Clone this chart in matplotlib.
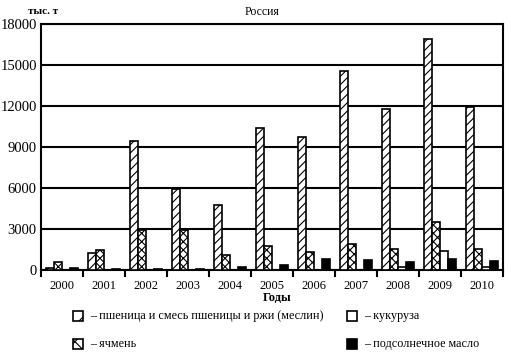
import numpy as np
import matplotlib.pyplot as plt
from matplotlib.patches import Rectangle

plt.rcParams['font.family'] = ['Liberation Serif', 'DejaVu Serif']
plt.rcParams['hatch.linewidth'] = 0.8

# данные (тыс. т)
years = ['2000', '2001', '2002', '2003', '2004', '2005', '2006', '2007', '2008', '2009', '2010']
wheat = [150, 1270, 9450, 5930, 4780, 10420, 9760, 14590, 11810, 16930, 11960]
barley = [560, 1460, 2900, 2900, 1080, 1760, 1320, 1930, 1560, 3540, 1560]
corn = [0, 0, 0, 0, 0, 0, 0, 0, 200, 1390, 240]
sunoil = [150, 60, 50, 50, 240, 390, 780, 730, 560, 800, 660]
yticks = [0, 3000, 6000, 9000, 12000, 15000, 18000]

series = [
    (wheat, 'white', '////', '– пшеница и смесь пшеницы и ржи (меслин)'),
    (barley, 'white', 'xxxx', '– ячмень'),
    (corn, 'white', '', '– кукуруза'),
    (sunoil, 'black', '', '– подсолнечное масло'),
]

fig = plt.figure(figsize=(5.11, 3.56), dpi=100)
ax = fig.add_axes([41/511, 1-270/356, 462/511, 246/356])

x = np.arange(len(years))
w = 0.19
for i, (vals, fc, hatch, lab) in enumerate(series):
    ax.bar(x + (i - 1.5)*w, vals, width=w, color=fc, edgecolor='black',
           hatch=hatch, linewidth=1.2, zorder=3)

ax.set_xlim(-0.5, len(years) - 0.5)
ax.set_ylim(0, 18000)
ax.set_yticks(yticks)
ax.set_yticklabels([str(v) for v in yticks], fontsize=10.5)
ax.tick_params(axis='y', length=0, pad=3)
ax.set_xticks(x)
ax.set_xticklabels(years, fontsize=9)
ax.set_xticks(np.arange(len(years) + 1) - 0.5, minor=True)
ax.tick_params(axis='x', which='major', length=0, pad=7)
ax.tick_params(axis='x', which='minor', length=5, width=1.5, direction='out')
ax.yaxis.grid(True, color='black', linewidth=1.5, zorder=0)
for s in ax.spines.values():
    s.set_linewidth(1.5)

fig.text(262/511, 1-12/356, 'Россия', fontsize=8.5, ha='center', va='center')
fig.text(28/511, 1-11/356, 'тыс. т', fontsize=8, ha='left', va='center', fontweight='bold')
fig.text(277/511, 1-298/356, 'Годы', fontsize=9, ha='center', va='center', fontweight='bold')

# легенда
pos = [(73, 316), (73, 344), (347, 316), (347, 344)]
for (vals, fc, hatch, lab), (px, py) in zip(series, pos):
    fig.patches.append(Rectangle((px/511, 1-(py+5)/356), 10/511, 10/356,
                                 transform=fig.transFigure, facecolor=fc,
                                 edgecolor='black', hatch=hatch[:2],
                                 linewidth=1.2))
    fig.text((px+17)/511, 1-py/356, lab, fontsize=8.7, ha='left', va='center')

fig.savefig('out.png', dpi=100)
